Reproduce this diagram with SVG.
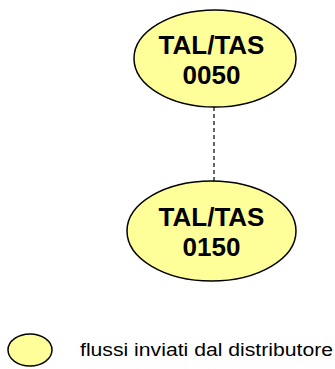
<svg xmlns="http://www.w3.org/2000/svg" width="335" height="369" viewBox="0 0 335 369">
<style>
.node{fill:#FFFF99;stroke:#000;stroke-width:1.5}
.lbl{font-family:"Liberation Sans",Arial,sans-serif;font-weight:bold;font-size:26px;fill:#000;text-anchor:middle}
.leg{font-family:"Liberation Sans",Arial,sans-serif;font-size:17.5px;fill:#000}
.conn{stroke:#000;stroke-width:1.2;stroke-dasharray:4,3;fill:none}
</style>
<rect width="335" height="369" fill="#fff"/>
<g id="connectors">
<line class="conn" x1="214" y1="107" x2="214" y2="181"/>
</g>
<g id="node-0050">
<ellipse class="node" cx="215" cy="58.5" rx="81" ry="48.5"/>
<text class="lbl" x="211.5" y="54">TAL/TAS</text>
<text class="lbl" x="211.5" y="84">0050</text>
</g>
<g id="node-0150">
<ellipse class="node" cx="211.5" cy="231" rx="84.5" ry="50"/>
<text class="lbl" x="211.5" y="226">TAL/TAS</text>
<text class="lbl" x="211.5" y="256">0150</text>
</g>
<g id="legend">
<ellipse class="node" cx="30" cy="350" rx="22" ry="16"/>
<text class="leg" x="80" y="356" textLength="253" lengthAdjust="spacingAndGlyphs">flussi inviati dal distributore</text>
</g>
</svg>
